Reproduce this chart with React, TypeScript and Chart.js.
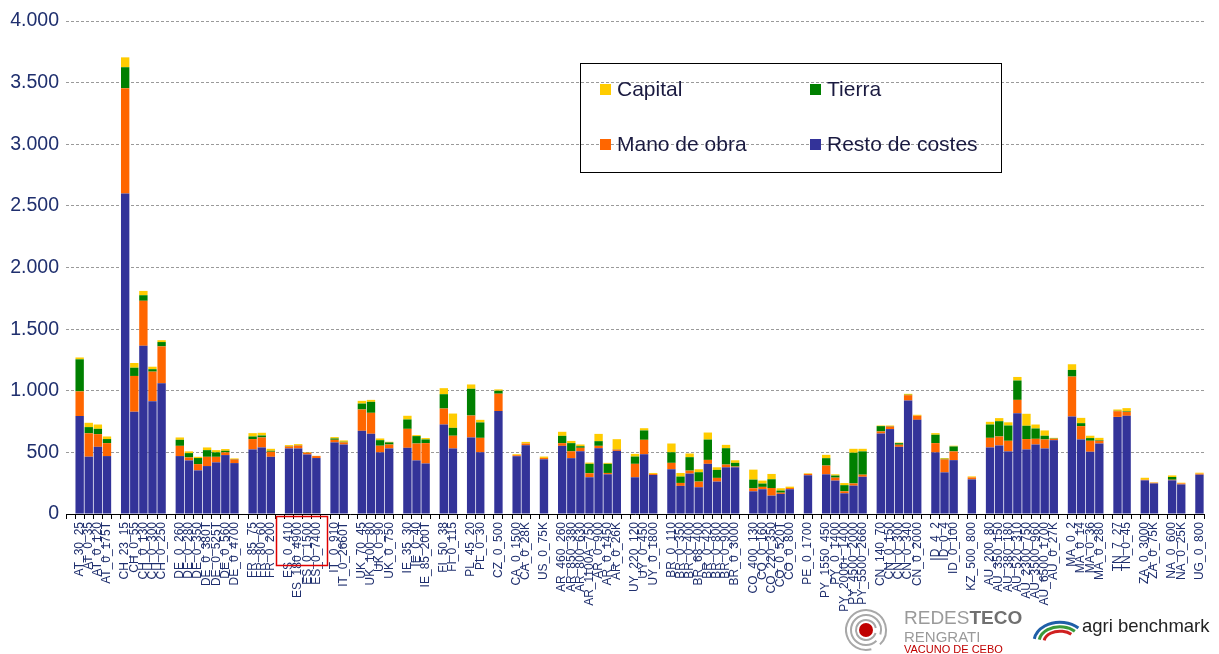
import React, { useEffect, useRef } from 'react';
import { Chart, registerables } from 'chart.js';

Chart.register(...registerables);

const N = null;

const categories: string[] = [
  '',
  'AT_30_25', 'AT_0_35', 'AT_0_120', 'AT_0_175T', '',
  'CH_23_15', 'CH_0_55', 'CH_0_130', 'CH_0_300', 'CH_0_250', '',
  'DE_0_260', 'DE_0_280', 'DE_0_350', 'DE_0_380T', 'DE_0_525T', 'DE_0_560', 'DE_0_4700', '',
  'FR_85_75', 'FR_80_60', 'FR_0_200', '',
  'ES_0_410', 'ES_180_4900', 'ES_0_1500', 'ES_0_7400', '',
  'IT_0_910', 'IT_0_2660T', '',
  'UK_70_45', 'UK_100_80', 'UK_0_90', 'UK_0_750', '',
  'IE_35_30', 'IE_0_40', 'IE_85_200T', '',
  'FI_50_38', 'FI_0_115', '',
  'PL_45_20', 'PL_0_30', '',
  'CZ_0_500', '',
  'CA_0_1500', 'CA_0_28K', '',
  'US_0_75K', '',
  'AR_460_260', 'AR_850_380', 'AR_800_630', 'AR_1100A_750', 'AR_0_900', 'AR_0_1450', 'AR_0_26K', '',
  'UY_220_120', 'UY_0_450', 'UY_0_1800', '',
  'BR_0_110', 'BR_0_350', 'BR_0_400', 'BR_68_400', 'BR_0_420', 'BR_0_800', 'BR_0_900', 'BR_0_3000', '',
  'CO_400_130', 'CO_0_160', 'CO_220_350', 'CO_0_520T', 'CO_0_800', '',
  'PE_0_1700', '',
  'PY_1550_450', 'PY_0_1400', 'PY_2000+_1400', 'PY_4500_2000', 'PY_5500_2660', '',
  'CN_140_70', 'CN_0_150', 'CN_0_300', 'CN_0_340', 'CN_0_2000', '',
  'ID_4_2', 'ID_0_4', 'ID_0_100', '',
  'KZ_500_800', '',
  'AU_200_80', 'AU_350_150', 'AU_380_180', 'AU_520_310', 'AU_2300_750', 'AU_3500_960', 'AU_6500_1700', 'AU_0_27K', '',
  'MA_0_2', 'MA_0_14', 'MA_0_36', 'MA_0_280', '',
  'TN_7_27', 'TN_0_45', '',
  'ZA_0_3000', 'ZA_0_75K', '',
  'NA_0_600', 'NA_0_25K', '',
  'UG_0_800',
];

// Resto de costes
const resto = [
  N,
  795, 465, 545, 470, N,
  2600, 830, 1365, 915, 1060, N,
  470, 435, 354, 389, 419, 478, 413, N,
  524, 540, 464, N,
  532, 532, 483, 454, N,
  581, 564, N,
  675, 651, 500, 532, N,
  537, 435, 410, N,
  726, 532, N,
  621, 501, N,
  835, N,
  469, 558, N,
  444, N,
  553, 453, 509, 298, 534, 322, 512, N,
  298, 485, 317, N,
  363, 228, 328, 217, 407, 263, 379, 379, N,
  184, 201, 149, 163, 201, N,
  314, N,
  322, 271, 168, 230, 302, N,
  653, 689, 545, 921, 764, N,
  500, 338, 437, N,
  281, N,
  540, 556, 508, 818, 524, 564, 532, 599, N,
  791, 605, 505, 572, N,
  788, 797, N,
  273, 248, N,
  273, 240, N,
  319,
];

// Mano de obra
const mano = [
  N,
  200, 190, 103, 105, N,
  855, 290, 365, 240, 300, N,
  83, 24, 51, 75, 45, 22, 30, N,
  84, 81, 41, N,
  16, 24, 14, 16, N,
  21, 17, N,
  173, 170, 54, 32, N,
  154, 137, 165, N,
  130, 103, N,
  178, 117, N,
  141, N,
  8, 14, N,
  11, N,
  22, 56, 28, 33, 19, 11, 11, N,
  109, 117, 8, N,
  52, 24, 24, 46, 32, 30, 22, 6, N,
  25, 19, 62, 10, 10, N,
  11, N,
  71, 24, 16, 18, 17, N,
  17, 21, 17, 43, 33, N,
  75, 105, 71, N,
  16, N,
  78, 73, 86, 108, 84, 46, 73, 11, N,
  324, 108, 89, 22, N,
  46, 32, N,
  5, 6, N,
  5, 8, N,
  8,
];

// Tierra
const tierra = [
  N,
  260, 50, 43, 33, N,
  170, 67, 45, 20, 35, N,
  49, 35, 49, 54, 36, 13, 3, N,
  21, 16, 8, N,
  3, 2, 1, 0, N,
  11, 5, N,
  48, 89, 45, 17, N,
  76, 60, 30, N,
  116, 64, N,
  217, 125, N,
  24, N,
  0, 0, N,
  0, N,
  59, 66, 13, 76, 38, 74, 2, N,
  59, 76, 0, N,
  86, 52, 109, 76, 165, 65, 133, 30, N,
  70, 27, 71, 17, 0, N,
  0, N,
  60, 17, 50, 249, 189, N,
  43, 3, 13, 3, 0, N,
  68, 5, 40, N,
  0, N,
  108, 124, 124, 157, 108, 84, 30, 3, N,
  54, 24, 22, 5, N,
  3, 5, N,
  0, 0, N,
  22, 0, N,
  0,
];

// Capital
const capital = [
  N,
  15, 35, 35, 21, N,
  80, 38, 35, 20, 15, N,
  19, 14, 10, 22, 18, 14, 5, N,
  27, 22, 16, N,
  8, 9, 4, 2, N,
  11, 11, N,
  22, 16, 14, 5, N,
  30, 8, 11, N,
  49, 116, N,
  35, 21, N,
  11, N,
  8, 13, N,
  11, N,
  33, 18, 14, 10, 59, 8, 82, N,
  22, 18, 8, N,
  71, 29, 30, 24, 57, 21, 27, 21, N,
  81, 24, 43, 19, 11, N,
  5, N,
  27, 10, 17, 32, 21, N,
  5, 5, 5, 8, 8, N,
  13, 6, 6, N,
  8, N,
  22, 25, 26, 29, 97, 32, 43, 5, N,
  46, 43, 19, 19, N,
  11, 25, N,
  16, 3, N,
  13, 6, N,
  8,
];

const yTicks = [0, 500, 1000, 1500, 2000, 2500, 3000, 3500, 4000];

const BLUE = '#333399';
const ORANGE = '#FF6600';
const GREEN = '#008000';
const YELLOW = '#FFCC00';
const NAVY = '#1F2F6E';
const FONT = '"Liberation Sans", Arial, sans-serif';

function fmt(v: number): string {
  if (v >= 1000) {
    const t = Math.floor(v / 1000);
    const r = v % 1000;
    return t + '.' + String(r).padStart(3, '0');
  }
  return String(v);
}

const overlay = {
  id: 'overlay',
  afterDraw(chart: any) {
    const ctx = chart.ctx as CanvasRenderingContext2D;
    const area = chart.chartArea;
    const xs = chart.scales.x;
    ctx.save();

    // Legend box
    ctx.strokeStyle = '#000';
    ctx.lineWidth = 1;
    ctx.strokeRect(580.5, 63.5, 421, 109);
    const ds = chart.data.datasets;
    const items = [
      { d: ds[3], x: 600, y: 90 },
      { d: ds[2], x: 810, y: 90 },
      { d: ds[1], x: 600, y: 145 },
      { d: ds[0], x: 810, y: 145 },
    ];
    ctx.font = '21px ' + FONT;
    ctx.textBaseline = 'middle';
    ctx.textAlign = 'left';
    items.forEach((it) => {
      ctx.fillStyle = it.d.backgroundColor;
      ctx.fillRect(it.x, it.y - 6, 11, 11);
      ctx.fillStyle = '#1a1a40';
      ctx.fillText(it.d.label, it.x + 17, it.y);
    });

    // Red box around ES labels
    const first = categories.indexOf('ES_0_410');
    const last = categories.indexOf('ES_0_7400');
    const w = xs.width / categories.length;
    const l = xs.getPixelForValue(first) - 1.45 * w;
    const r = xs.getPixelForValue(last) + 1.15 * w;
    ctx.strokeStyle = '#E00000';
    ctx.lineWidth = 1.5;
    ctx.strokeRect(Math.round(l) + 0.5, area.bottom + 2.5, Math.round(r - l), 49);

    // REDESTECO logo
    const cx = 866, cy = 630;
    ctx.strokeStyle = '#a8a8a8';
    ctx.lineWidth = 2;
    [10, 15, 20].forEach((rad, i) => {
      ctx.beginPath();
      ctx.arc(cx, cy, rad, 0.3 + i * 0.5, Math.PI * 2 - 0.2 + i * 0.5);
      ctx.stroke();
    });
    ctx.fillStyle = '#C00000';
    ctx.beginPath();
    ctx.arc(cx, cy, 7, 0, Math.PI * 2);
    ctx.fill();

    ctx.textBaseline = 'alphabetic';
    ctx.font = '19px ' + FONT;
    ctx.fillStyle = '#9a9a9a';
    ctx.fillText('REDES', 904, 624);
    const wr = ctx.measureText('REDES').width;
    ctx.font = 'bold 19px ' + FONT;
    ctx.fillStyle = '#707070';
    ctx.fillText('TECO', 904 + wr, 624);
    ctx.font = '15px ' + FONT;
    ctx.fillStyle = '#9a9a9a';
    ctx.fillText('RENGRATI', 904, 642);
    ctx.font = '11px ' + FONT;
    ctx.fillStyle = '#C00000';
    ctx.fillText('VACUNO DE CEBO', 904, 653);

    // agri benchmark logo
    const arcs = [
      { c: '#1F5FA8', r: 22 },
      { c: '#3A9A3A', r: 17 },
      { c: '#D02020', r: 12 },
    ];
    arcs.forEach((a) => {
      ctx.strokeStyle = a.c;
      ctx.lineWidth = 3;
      ctx.beginPath();
      ctx.ellipse(1060, 642, a.r + 4, a.r * 0.9, 0, Math.PI * 1.05, Math.PI * 1.75);
      ctx.stroke();
    });
    ctx.font = '18.5px ' + FONT;
    ctx.fillStyle = '#222';
    ctx.fillText('agri benchmark', 1082, 632);

    ctx.restore();
  },
};

export default function App() {
  const ref = useRef<HTMLCanvasElement>(null);

  useEffect(() => {
    const canvas = ref.current;
    if (!canvas) return;
    const chart = new Chart(canvas, {
      type: 'bar',
      data: {
        labels: categories,
        datasets: [
          { label: 'Resto de costes', data: resto, backgroundColor: BLUE, stack: 's' },
          { label: 'Mano de obra', data: mano, backgroundColor: ORANGE, stack: 's' },
          { label: 'Tierra', data: tierra, backgroundColor: GREEN, stack: 's' },
          { label: 'Capital', data: capital, backgroundColor: YELLOW, stack: 's' },
        ] as any,
      },
      options: {
        responsive: false,
        animation: false,
        devicePixelRatio: 1,
        layout: { padding: { top: 21, right: 15, left: 0, bottom: 0 } },
        datasets: {
          bar: { barPercentage: 0.92, categoryPercentage: 1, borderWidth: 0 },
        },
        plugins: {
          legend: { display: false },
          tooltip: { enabled: false },
        },
        scales: {
          x: {
            stacked: true,
            offset: true,
            afterFit: (s: any) => {
              s.height = 140;
            },
            grid: {
              display: true,
              offset: true,
              drawOnChartArea: false,
              drawTicks: true,
              tickLength: 5,
              color: '#000',
            },
            border: { display: true, color: '#000', width: 1 },
            ticks: {
              autoSkip: false,
              minRotation: 90,
              maxRotation: 90,
              padding: 3,
              color: NAVY,
              font: { family: FONT, size: 12 },
            },
          },
          y: {
            stacked: true,
            min: 0,
            max: 4000,
            afterFit: (s: any) => {
              s.width = 66;
            },
            afterBuildTicks: (s: any) => {
              s.ticks = yTicks.map((v) => ({ value: v }));
            },
            grid: {
              color: '#9a9a9a',
              lineWidth: 1,
              drawTicks: false,
            },
            border: { display: false, dash: [3, 2] },
            ticks: {
              padding: 7,
              color: NAVY,
              font: { family: FONT, size: 19.5 },
              callback: (v: any) => fmt(Number(v)),
            },
          },
        },
      },
      plugins: [overlay],
    });
    return () => chart.destroy();
  }, []);

  return (
    <div style={{ position: 'absolute', left: 0, top: 0, width: 1219, height: 654, background: '#fff', overflow: 'hidden' }}>
      <canvas ref={ref} width={1219} height={654} style={{ display: 'block' }} />
    </div>
  );
}
